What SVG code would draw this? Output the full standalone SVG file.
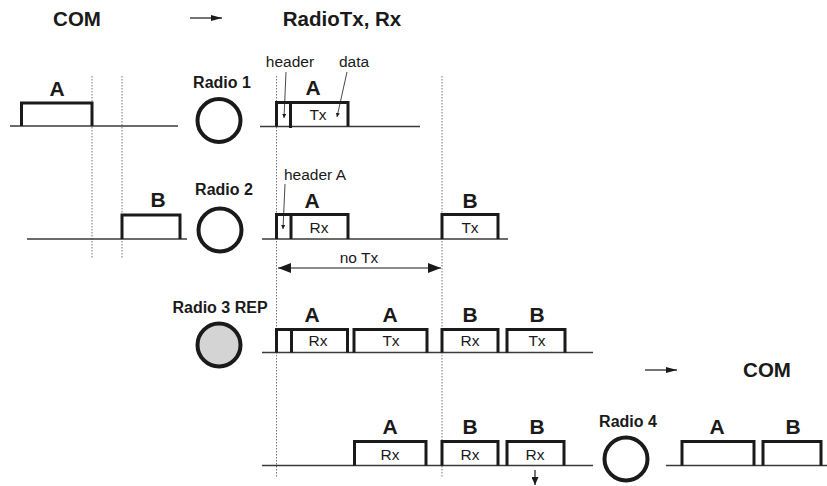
<svg xmlns="http://www.w3.org/2000/svg" width="827" height="486" viewBox="0 0 827 486">
<style>
.base{stroke:#3a3a3a;stroke-width:1.5;fill:none}
.pulse{stroke:#1a1a1a;stroke-width:3;fill:none;stroke-linejoin:miter;stroke-linecap:butt}
.vdot{stroke:#777;stroke-width:1;stroke-dasharray:1.5 1.5;fill:none}
.ring{stroke:#1a1a1a;stroke-width:4;fill:#fff}
.rep{fill:#d4d4d4}
.title{font-family:"Liberation Sans",Arial,sans-serif;font-weight:bold;font-size:20.5px;fill:#1a1a1a;text-anchor:middle}
.lab{font-family:"Liberation Sans",Arial,sans-serif;font-weight:bold;font-size:21px;fill:#1a1a1a;text-anchor:middle}
.rad{font-family:"Liberation Sans",Arial,sans-serif;font-weight:bold;font-size:16px;fill:#1a1a1a;text-anchor:middle}
.sm{font-family:"Liberation Sans",Arial,sans-serif;font-size:15.5px;fill:#1a1a1a;text-anchor:middle}
.conn{stroke:#1a1a1a;stroke-width:1.2;fill:none}
.thin{stroke:#1a1a1a;stroke-width:0.8;fill:none}
</style>
<defs>
<marker id="ah" markerWidth="11" markerHeight="6" refX="11" refY="3" orient="auto" markerUnits="userSpaceOnUse">
<path d="M0,0 L11,3 L0,6 Z" fill="#1a1a1a"/>
</marker>
<marker id="ahb" markerWidth="13" markerHeight="10" refX="13" refY="5" orient="auto-start-reverse" markerUnits="userSpaceOnUse">
<path d="M0,0 L13,5 L0,10 Z" fill="#1a1a1a"/>
</marker>
<marker id="ahs" markerWidth="4" markerHeight="4" refX="4" refY="2" orient="auto" markerUnits="userSpaceOnUse">
<path d="M0,0 L4,2 L0,4 Z" fill="#1a1a1a"/>
</marker>
<marker id="ahd" markerWidth="8" markerHeight="7" refX="8" refY="3.5" orient="auto" markerUnits="userSpaceOnUse">
<path d="M0,0 L8,3.5 L0,7 Z" fill="#1a1a1a"/>
</marker>
</defs>

<g id="guides">
<line class="vdot" x1="92" y1="76" x2="92" y2="258"/>
<line class="vdot" x1="122" y1="76" x2="122" y2="258"/>
<line class="vdot" x1="276.5" y1="76" x2="276.5" y2="478"/>
<line class="vdot" x1="442" y1="76" x2="442" y2="478"/>
</g>

<g id="titles">
<text class="title" x="77" y="26">COM</text>
<text class="title" x="342" y="26">RadioTx, Rx</text>
<text class="title" x="767" y="377">COM</text>
</g>

<g id="com-in-A">
<path class="base" d="M10,126 H178"/>
<path class="pulse" d="M21.5,126 V103 H92 V126"/>
<text class="lab" x="57" y="96">A</text>
</g>

<g id="com-in-B">
<path class="base" d="M27,239 H187"/>
<path class="pulse" d="M122,239 V215 H180 V239"/>
<text class="lab" x="158" y="207">B</text>
</g>

<g id="radio1">
<text class="rad" x="222" y="88">Radio 1</text>
<circle class="ring" cx="219" cy="120.5" r="21.5"/>
</g>

<g id="radio2">
<text class="rad" x="224" y="195">Radio 2</text>
<circle class="ring" cx="220" cy="230" r="21.5"/>
</g>

<g id="radio3">
<text class="rad" x="220" y="313">Radio 3 REP</text>
<circle class="ring rep" cx="219" cy="345" r="21.5"/>
</g>

<g id="radio4">
<text class="rad" x="628" y="427">Radio 4</text>
<circle class="ring" cx="626" cy="459" r="21.5"/>
</g>

<g id="row1-signal">
<path class="base" d="M260,126.5 H420"/>
<path class="pulse" d="M276.5,126.5 V102.5 H348 V126.5"/>
<path class="pulse" d="M290.5,102.5 V128"/>
<text class="lab" x="313" y="95">A</text>
<text class="sm" x="318" y="120">Tx</text>
<text class="sm" x="290" y="67">header</text>
<text class="sm" x="354" y="67">data</text>
</g>

<g id="row2-signal">
<path class="base" d="M262,239 H508"/>
<path class="pulse" d="M276.5,239 V214.5 H348 V239"/>
<path class="pulse" d="M291,214.5 V239"/>
<path class="pulse" d="M442,239 V214.5 H498 V239"/>
<text class="lab" x="312" y="208">A</text>
<text class="lab" x="470" y="208">B</text>
<text class="sm" x="319" y="233">Rx</text>
<text class="sm" x="470" y="233">Tx</text>
<text class="sm" x="315" y="180">header A</text>
<text class="sm" x="359" y="263">no Tx</text>
</g>

<g id="row3-signal">
<path class="base" d="M262,352.5 H593"/>
<path class="pulse" d="M276.5,352.5 V329.5 H347.5 V352.5"/>
<path class="pulse" d="M291.5,329.5 V352.5"/>
<path class="pulse" d="M354,352.5 V329.5 H427 V352.5"/>
<path class="pulse" d="M442,352.5 V329.5 H498 V352.5"/>
<path class="pulse" d="M507,352.5 V329.5 H565 V352.5"/>
<text class="lab" x="312" y="322">A</text>
<text class="lab" x="390" y="322">A</text>
<text class="lab" x="470" y="322">B</text>
<text class="lab" x="537" y="322">B</text>
<text class="sm" x="318" y="346">Rx</text>
<text class="sm" x="391" y="346">Tx</text>
<text class="sm" x="470" y="346">Rx</text>
<text class="sm" x="537" y="346">Tx</text>
</g>

<g id="row4-signal">
<path class="base" d="M262,465.5 H593"/>
<path class="pulse" d="M354.5,465.5 V441.5 H426 V465.5"/>
<path class="pulse" d="M442,465.5 V441.5 H498 V465.5"/>
<path class="pulse" d="M507,465.5 V441.5 H564 V465.5"/>
<text class="lab" x="390" y="434">A</text>
<text class="lab" x="470" y="434">B</text>
<text class="lab" x="537" y="434">B</text>
<text class="sm" x="390" y="460">Rx</text>
<text class="sm" x="470" y="460">Rx</text>
<text class="sm" x="535" y="460">Rx</text>
</g>

<g id="com-out">
<path class="base" d="M666,465.5 H827"/>
<path class="pulse" d="M682,465.5 V441.5 H754 V465.5"/>
<path class="pulse" d="M763,465.5 V441.5 H821 V465.5"/>
<text class="lab" x="717" y="434">A</text>
<text class="lab" x="793" y="434">B</text>
</g>

<g id="connectors">
<line class="conn" x1="190" y1="18" x2="222" y2="18" marker-end="url(#ah)"/>
<line class="conn" x1="645" y1="370" x2="677" y2="370" marker-end="url(#ah)"/>
<line class="conn" x1="278" y1="268" x2="441" y2="268" marker-start="url(#ahb)" marker-end="url(#ahb)"/>
<line class="thin" x1="286" y1="72" x2="284" y2="118" marker-end="url(#ahs)"/>
<line class="thin" x1="347" y1="72" x2="337" y2="117" marker-end="url(#ahs)"/>
<line class="thin" x1="285" y1="184" x2="283" y2="229" marker-end="url(#ahs)"/>
<line class="conn" x1="535" y1="470" x2="535" y2="485" marker-end="url(#ahd)"/>
</g>
</svg>
